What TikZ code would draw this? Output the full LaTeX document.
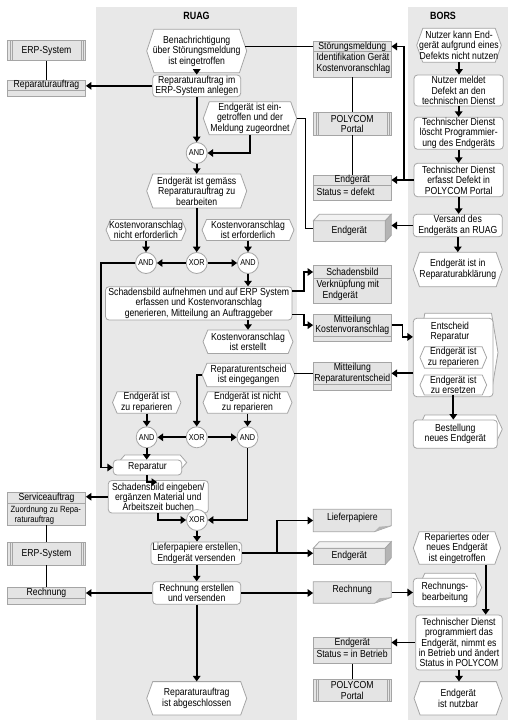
\documentclass[tikz,border=0pt]{standalone}
\usepackage{fontspec}
\setmainfont{Liberation Sans}[FakeStretch=0.85]
\usetikzlibrary{arrows.meta,calc,fit}
\definecolor{lane}{RGB}{232,232,232}
\definecolor{dfill}{RGB}{228,228,228}
\definecolor{bord}{RGB}{165,165,165}
\definecolor{sidef}{RGB}{180,180,180}
\definecolor{topf}{RGB}{242,242,242}
\tikzset{
 txt/.style={font=\fontsize{10.2}{10.4}\selectfont, align=center, inner sep=0pt},
 fitn/.style={inner sep=0pt, draw=none},
 fnb/.style={inner sep=0pt, draw=bord, fill=white, rounded corners=3.5pt, line width=0.8pt},
 evs/.style={draw=bord, fill=white, line width=0.8pt, line join=round},
 dobj/.style={draw=bord, fill=dfill, line width=0.8pt},
 sysl/.style={draw=bord, line width=0.6pt},
 gate/.style={circle, draw=bord, fill=white, line width=0.8pt, minimum size=21pt, inner sep=0pt, font=\fontsize{8.6}{9}\selectfont},
 flow/.style={draw=black, line width=1.8pt, -{Triangle[length=5.5pt,width=7.5pt]}},
 assoc/.style={draw=black, line width=0.8pt},
 lanetitle/.style={font=\fontsize{10.5}{12}\selectfont\bfseries, inner sep=0pt},
}
% event: name, cx, cy, w, h, text
\newcommand\Ev[6]{%
  \pgfmathsetmacro\evd{0.12*#5+2}%
  \draw[evs] (#2-#4/2,#3) -- (#2-#4/2+\evd,#3-#5/2) -- (#2+#4/2-\evd,#3-#5/2) -- (#2+#4/2,#3) -- (#2+#4/2-\evd,#3+#5/2) -- (#2-#4/2+\evd,#3+#5/2) -- cycle;
  \node[txt, minimum width=#4pt, minimum height=#5pt] (#1) at (#2,#3) {#6};}
% function: name, x1, y1, x2, y2, text
\newcommand\Fn[6]{%
  \node[fnb, fit={(#2,#3)(#4,#5)}] (#1) {};
  \node[txt] at (#1) {#6};}
% process interface: name, x1, y1, x2, y2, text
\newcommand\PIf[6]{%
  \draw[evs] (#2+5,{(#3+#5)/2-5}) -- (#2+11.5,#3-5) -- (#4-1.5,#3-5) -- (#4+5,{(#3+#5)/2-5}) -- (#4-1.5,#5-5) -- (#2+11.5,#5-5) -- cycle;
  \node[fnb, fit={(#2,#3)(#4,#5)}] (#1) {};
  \node[txt] at (#1) {#6};}
% data object: name, x1, y1, x2, ysplit, y2, header, body
\newcommand\Data[8]{%
  \draw[dobj] (#2,#3) rectangle (#4,#6);
  \draw[dobj] (#2,#5) -- (#4,#5);
  \node[fitn, fit={(#2,#3)(#4,#6)}] (#1) {};
  \node[fitn, fit={(#2,#3)(#4,#5)}] (#1h) {};
  \node[txt] at (#1h) {#7};
  \node[txt, anchor=north west, align=left] at (#2+3,#5+2) {#8};}
% system: name, x1, y1, x2, y2, text
\newcommand\Sys[6]{%
  \node[dobj, inner sep=0pt, fit={(#2,#3)(#4,#5)}] (#1) {};
  \draw[sysl] (#2+2.5,#3) -- (#2+2.5,#5) (#2+4.5,#3) -- (#2+4.5,#5) (#4-2.5,#3) -- (#4-2.5,#5) (#4-4.5,#3) -- (#4-4.5,#5);
  \node[txt] at (#1) {#6};}
% document: name, x1, y1, x2, y2, text
\newcommand\Doc[6]{%
  \draw[dobj] (#2,#3) -- (#4,#3) -- (#4,#5-6) -- (#4-17,#5) -- (#2,#5) -- cycle;
  \fill[sidef] (#4-17,#5) -- (#4-12,#5-5) -- (#4,#5-6) -- cycle;
  \node[fitn, fit={(#2,#3)(#4,#5)}] (#1) {};
  \node[txt] at ($(#1)+(0,-3)$) {#6};}
% 3D box: name, x1, y1, x2, y2, text
\newcommand\BoxT[6]{%
  \draw[dobj] (#2,#3+6.5) rectangle (#4-6,#5);
  \draw[dobj, fill=topf] (#2,#3+6.5) -- (#2+6,#3) -- (#4,#3) -- (#4-6,#3+6.5) -- cycle;
  \draw[dobj, fill=sidef] (#4-6,#3+6.5) -- (#4,#3) -- (#4,#5-6.5) -- (#4-6,#5) -- cycle;
  \node[fitn, fit={(#2,#3)(#4,#5)}] (#1) {};
  \node[txt] at ({(#2+#4-6)/2},{(#3+6.5+#5)/2}) {#6};}
\begin{document}
\begin{tikzpicture}[x=1pt,y=-1pt]
\fill[white] (0,0) rectangle (514,727);
\useasboundingbox (0,0) rectangle (514,727);
\fill[lane] (96,7) rectangle (297,720);
\fill[lane] (408,7) rectangle (508,720);
\node[lanetitle] (tR) at (196.5,16) {RUAG};
\node[lanetitle] (tB) at (443,16) {BORS};

% ---- left column
\Sys{erp1}{7.3}{40.7}{85.7}{60.7}{ERP-System}
\Data{rep1}{7.3}{80}{85.7}{90.7}{96.7}{Reparaturauftrag}{}
\Data{svc}{7.3}{492.7}{85.7}{503.3}{525}{Serviceauftrag}{}
\node[txt, font=\fontsize{9}{10.4}\selectfont, anchor=north west, align=left] (svcb) at (10.5,505.5) {Zuordnung zu Repa-\\\hspace*{4pt}raturauftrag};
\Sys{erp2}{7.3}{542.3}{85.7}{565}{ERP-System}
\Data{rech1}{7.3}{587.3}{85.7}{598.3}{604.3}{Rechnung}{}

% ---- middle column
\Data{d1}{313.3}{41.7}{391.3}{51.3}{77.3}{Störungsmeldung}{Identifikation Gerät\\Kostenvoranschlag}
\Sys{s1}{313.3}{112.7}{391.3}{135}{POLYCOM\\Portal}
\Data{d2}{313.3}{175}{391.3}{185.7}{200}{Endgerät}{Status = defekt}
\BoxT{b1}{313.3}{214.3}{391.3}{241.7}{Endgerät}
\Data{d3}{313.3}{265.7}{391.3}{278.3}{303.3}{Schadensbild}{Verknüpfung mit\\\hspace*{6pt}Endgerät}
\Data{d4}{313.3}{314.3}{391.3}{336}{341.7}{Mitteilung\\Kostenvoranschlag}{}
\Data{d5}{313.3}{362.7}{391.3}{384}{390}{Mitteilung\\Reparaturentscheid}{}
\Doc{doc1}{313.3}{509.3}{391.3}{531.7}{Lieferpapiere}
\BoxT{b2}{313.3}{541.7}{391.3}{564.3}{Endgerät}
\Doc{doc2}{313.3}{581.7}{391.3}{603.3}{Rechnung}
\Data{d6}{313.3}{637.7}{391.3}{648.3}{663.3}{Endgerät}{Status = in Betrieb}
\Sys{s2}{313.3}{679}{391.3}{701.7}{POLYCOM\\Portal}

% ---- RUAG
\Ev{e1}{196.7}{51}{100}{43.4}{Benachrichtigung\\über Störungsmeldung\\ist eingetroffen}
\Fn{f1}{152.7}{75}{240.7}{96.7}{Reparaturauftrag im\\ERP-System anlegen}
\node[gate] (a1) at (196.7,153) {AND};
\Ev{e2}{250}{118.3}{93.4}{33}{Endgerät ist ein-\\getroffen und der\\Meldung zugeordnet}
\Ev{e3}{196.7}{191}{100}{34}{Endgerät ist gemäss\\Reparaturauftrag zu\\bearbeiten}
\Ev{e4}{146}{230}{80}{21}{Kostenvoranschlag\\nicht erforderlich}
\Ev{e5}{248}{230}{92}{21}{Kostenvoranschlag\\ist erforderlich}
\node[gate] (a2) at (146,263) {AND};
\node[gate] (x1) at (196.7,263) {XOR};
\node[gate] (a3) at (248,263) {AND};
\Fn{f2}{105.5}{286.7}{292}{320}{Schadensbild aufnehmen und auf ERP System\\erfassen und Kostenvoranschlag\\generieren, Mitteilung an Auftraggeber}
\Ev{e6}{248}{341.7}{90}{23.4}{Kostenvoranschlag\\ist erstellt}
\Ev{e7}{248.5}{375}{92.7}{23.4}{Reparaturentscheid\\ist eingegangen}
\Ev{e8}{146.7}{402.5}{68.4}{21.6}{Endgerät ist\\zu reparieren}
\Ev{e9}{247.5}{402.5}{89}{21.6}{Endgerät ist nicht\\zu reparieren}
\node[gate] (a4) at (146.7,437.3) {AND};
\node[gate] (x2) at (196.7,437.3) {XOR};
\node[gate] (a5) at (247.5,437.3) {AND};
\PIf{f3}{113.3}{460}{181.7}{475}{Reparatur}
\Fn{f4}{108.3}{480.5}{208.3}{513}{Schadensbild eingeben/\\ergänzen Material und\\Arbeitszeit buchen}
\node[gate] (x3) at (197,520) {XOR};
\Fn{f5}{151}{542}{241.7}{564.5}{Lieferpapiere erstellen,\\Endgerät versenden}
\Fn{f6}{152.7}{581.7}{240.7}{604.3}{Rechnung erstellen\\und versenden}
\Ev{e10}{196.7}{698.3}{100}{33.4}{Reparaturauftrag\\ist abgeschlossen}

% ---- BORS
\Ev{e11}{459}{45.3}{84.6}{34}{Nutzer kann End-\\gerät aufgrund eines\\Defekts nicht nutzen}
\Fn{f7}{414}{75}{503.3}{106}{Nutzer meldet\\Defekt an den\\technischen Dienst}
\Fn{f8}{414}{117.3}{503.3}{149.3}{Technischer Dienst\\löscht Programmier-\\ung des Endgeräts}
\Fn{f9}{414}{163.3}{503.3}{196.7}{Technischer Dienst\\erfasst Defekt in\\POLYCOM Portal}
\Fn{f10}{413.3}{214.3}{502.3}{236.7}{Versand des\\Endgeräts an RUAG}
\Ev{e12}{457.8}{269.5}{89}{34.4}{Endgerät ist in\\Reparaturabklärung}
\PIf{pi1}{413.3}{318.3}{493}{396.7}{}
\node[txt] (pi1t) at (450,332) {Entscheid\\Reparatur};
\Ev{e13}{453.3}{357.5}{66.7}{21.6}{Endgerät ist\\zu reparieren}
\Ev{e14}{453.3}{385}{66.7}{20}{Endgerät ist\\zu ersetzen}
\PIf{f11}{413.3}{420}{497.3}{448.3}{Bestellung\\neues Endgerät}
\Ev{e15}{457}{548}{87.4}{32.6}{Repariertes oder\\neues Endgerät\\ist eingetroffen}
\PIf{pi3}{413.3}{578.3}{476.7}{606.7}{Rechnungs-\\bearbeitung}
\Fn{f12}{415.7}{615}{502.3}{670}{Technischer Dienst\\programmiert das\\Endgerät, nimmt es\\in Betrieb und ändert\\Status in POLYCOM}
\Ev{e16}{458.2}{698.3}{88.3}{33.4}{Endgerät\\ist nutzbar}

% ---- thin associations
\draw[assoc] (erp1.south) -- (rep1.north);
\draw[assoc] (svc.south) -- (erp2.north);
\draw[assoc] (erp2.south) -- (rech1.north);
\draw[assoc] (d1h.west) -- ($(e1.east |- d1h.west)+(-2,0)$);
\draw[assoc] (d1.south) -- (s1.north);
\draw[assoc] (s1.south) -- (d2.north);
\draw[assoc] (e2.east) -- ++(8,0) |- (b1.west);
\draw[assoc] (d5h.west) -- ($(e7.east |- d5h.west)+(-1,0)$);
\draw[assoc] (d6.south) -- (s2.north);

% ---- control flow RUAG
\draw[flow] (e1.south) -- (f1.north);
\draw[flow] (f1.west) -- (f1.west -| rep1.east);
\draw[flow] (f1.south) -- (a1.north);
\draw[flow] (e2.south) |- (a1.east);
\draw[flow] (a1.south) -- (e3.north);
\draw[flow] (e3.south) -- (x1.north);
\draw[flow] (e4.south) -- (a2.north);
\draw[flow] (e5.south) -- (a3.north);
\draw[flow] (x1.west) -- (a2.east);
\draw[flow] (x1.east) -- (a3.west);
\draw[flow] (a2.west) -- ++(-33.8,0) |- (f3.west);
\draw[flow] (a3.south) -- (a3.south |- f2.north);
\draw[flow] ($(f2.north east)+(0,5)$) -- ++(11.3,0) |- (d3h.west);
\draw[flow] ($(f2.south east)+(0,-6)$) -- ++(11.3,0) |- (d4h.west);
\draw[flow] (e6.north |- f2.south) -- (e6.north);
\draw[flow] (e7.west) -| (x2.north);
\draw[flow] (e8.south) -- (a4.north);
\draw[flow] (e9.south) -- (a5.north);
\draw[flow] (x2.west) -- (a4.east);
\draw[flow] (x2.east) -- (a5.west);
\draw[flow] (a4.south) -- (a4.south |- f3.north);
\draw[flow] (a5.south) |- (x3.east);
\draw[flow] (a4.south |- f3.south) -- ++(0,6.7) -- ++(10.3,0);
\draw[flow] (f4.west) -- (f4.west -| svc.east);
\draw[flow] (f4.south) |- (x3.west);
\draw[flow] (x3.south) -- (x3.south |- f5.north);
\draw[flow] (f5.east) -- (f5.east -| b2.west);
\coordinate (br) at ($(f5.east)+(35,0)$);
\draw[flow] (br) |- (doc1.west);
\draw[flow] (f6.north |- f5.south) -- (f6.north);
\draw[flow] (f6.west) -- (f6.west -| rech1.east);
\draw[flow] (f6.east) -- (f6.east -| doc2.west);
\draw[flow] (f6.south) -- (e10.north);

% ---- control flow BORS
\draw[flow] (e11.south) -- (e11.south |- f7.north);
\draw[flow] (f7.south) -- (f8.north);
\draw[flow] (f8.south) -- (f9.north);
\draw[flow] (f9.south) -- (f9.south |- f10.north);
\draw[flow] (f10.south) -- (f10.south |- e12.north);
\draw[flow] (f9.west) -- (f9.west -| d2.east);
\draw[flow] (f9.west) -- ++(-10,0) |- (d1h.east);
\draw[flow] (f10.west) -- (f10.west -| b1.east);
\draw[flow] (d5h.east -| pi1.west) -- (d5h.east);
\draw[flow] (d4h.east) -- ++(11,0) |- ($(pi1.north west)+(0,19)$);
\draw[flow] (e14.south) -- (e14.south |- f11.north);
\coordinate (c36) at ($(e15.south)+(28.7,0)$);
\draw[flow] (c36) -- (c36 |- f12.north);
\draw[flow] (doc2.east) -- (doc2.east -| pi3.west);
\draw[flow] (f12.west) -- (f12.west -| d6.east);
\draw[flow] (f12.south) -- (f12.south |- e16.north);
\end{tikzpicture}
\end{document}
